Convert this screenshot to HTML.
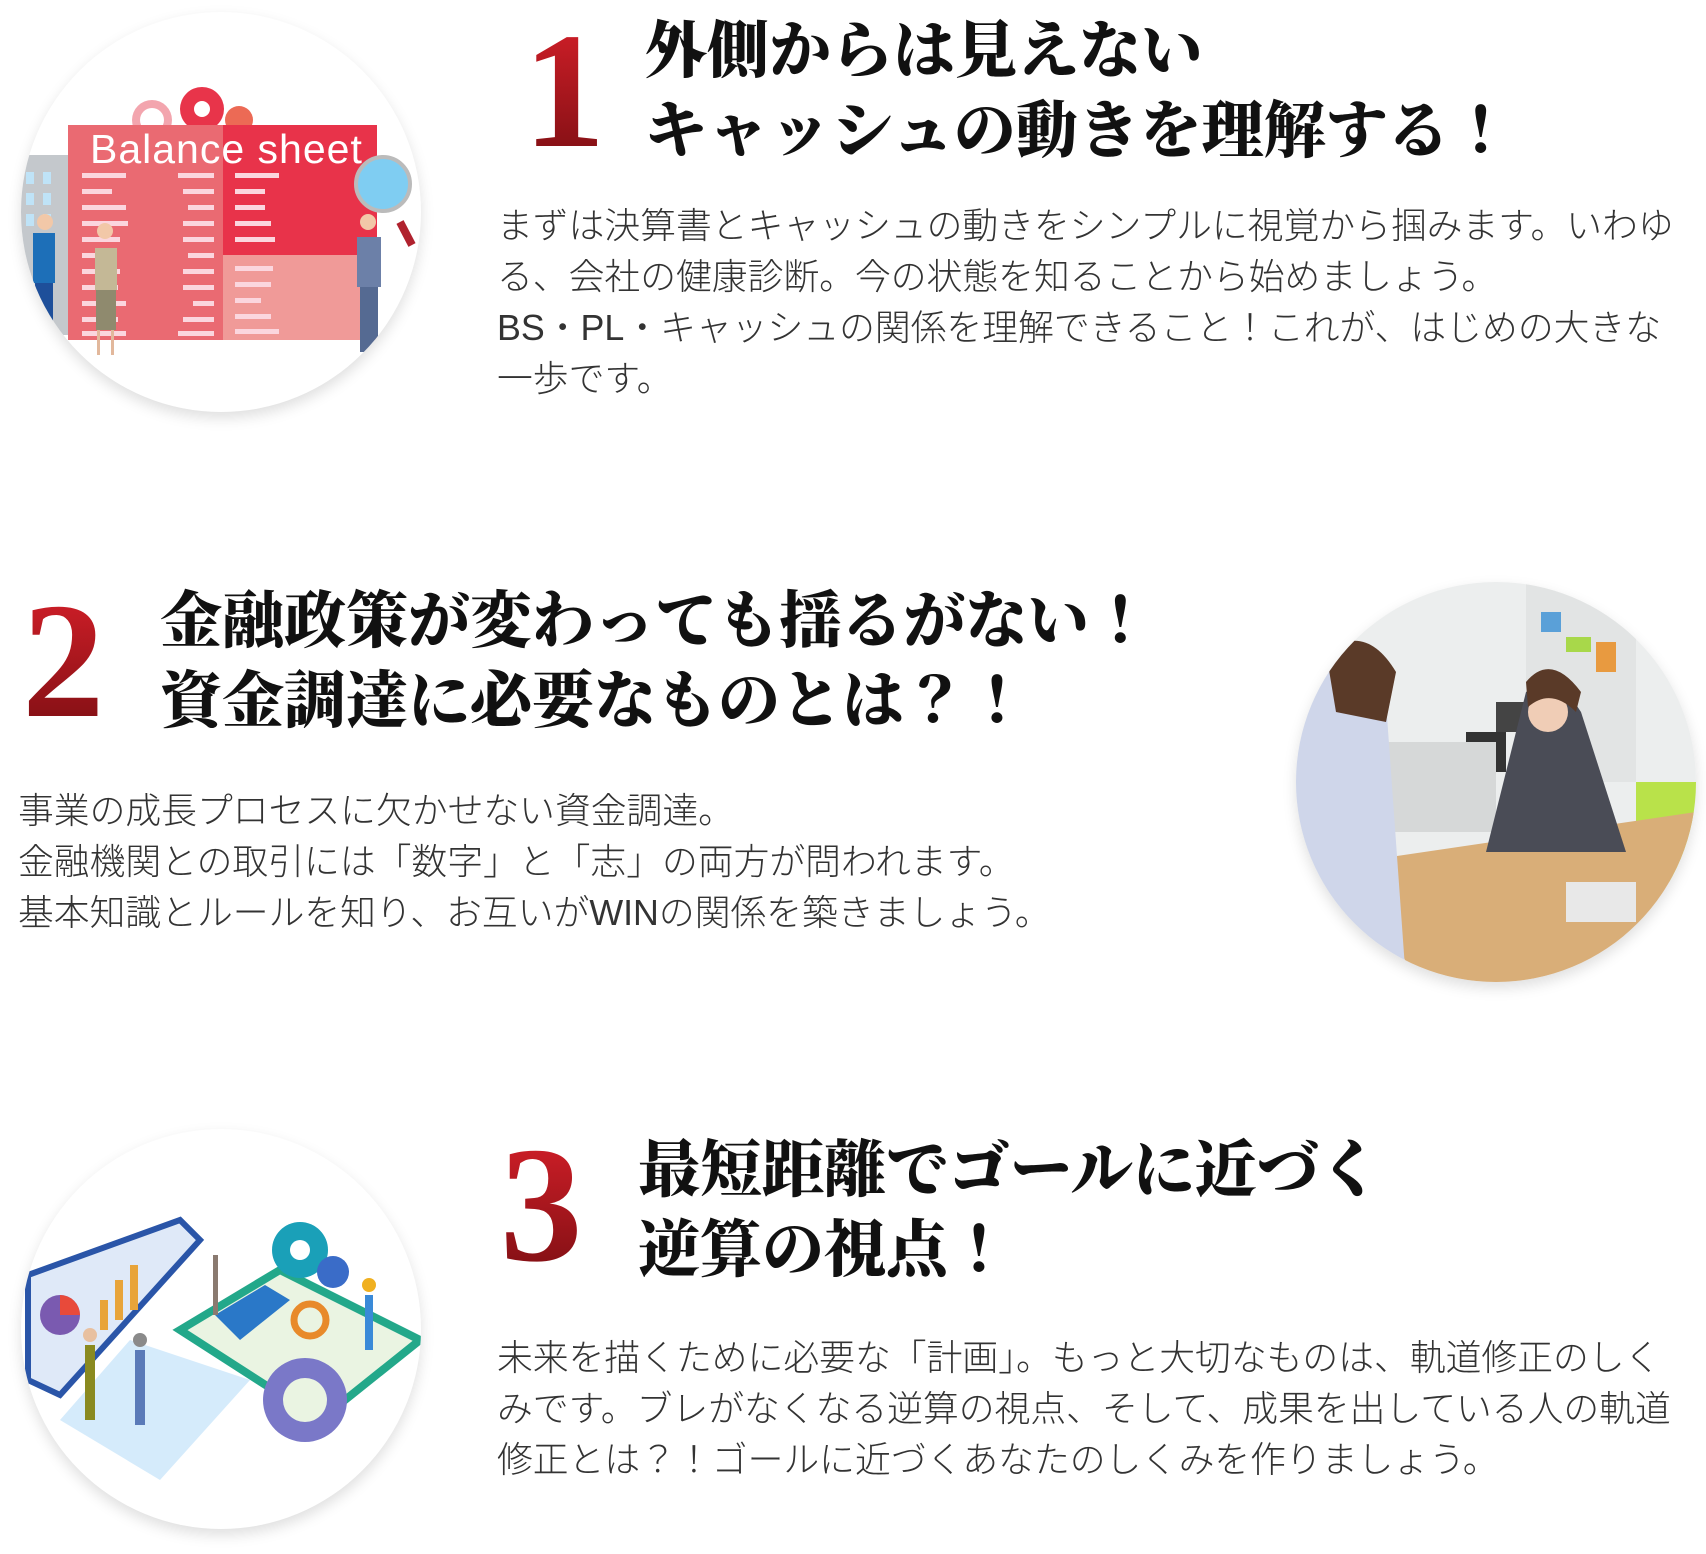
<!DOCTYPE html>
<html><head><meta charset="utf-8">
<style>
*{margin:0;padding:0;box-sizing:border-box}
body{width:1706px;height:1554px;background:#fff;position:relative;overflow:hidden;font-family:"Liberation Sans","Noto Sans CJK JP",sans-serif}
.circ{position:absolute;width:400px;height:400px;border-radius:50%;overflow:hidden;background:#fff;box-shadow:0 6px 14px rgba(0,0,0,0.13)}
.num{position:absolute;font-family:"Liberation Serif","Noto Serif CJK JP",serif;font-weight:bold;font-size:165px;line-height:1;background:linear-gradient(#d8202a,#7a0e12);-webkit-background-clip:text;background-clip:text;color:transparent}
.ttl{position:absolute;font-family:"Liberation Serif","Noto Serif CJK JP",serif;font-weight:900;font-size:62px;line-height:80px;color:#111;white-space:nowrap}
.body{position:absolute;font-size:35.8px;line-height:51px;color:#333;white-space:nowrap;font-weight:300}
</style></head><body>

<div class="circ" style="left:21px;top:12px">
<svg width="400" height="400" viewBox="21 12 400 400">
<rect x="21" y="155" width="50" height="180" fill="#c4c8cc"/>
<g fill="#bfe3f7"><rect x="26" y="172" width="8" height="12"/><rect x="43" y="172" width="8" height="12"/><rect x="26" y="193" width="8" height="12"/><rect x="43" y="193" width="8" height="12"/><rect x="26" y="214" width="8" height="12"/><rect x="43" y="214" width="8" height="12"/></g>
<circle cx="152" cy="120" r="20" fill="#f3a5ae"/><circle cx="152" cy="120" r="12" fill="#fff"/>
<circle cx="202" cy="109" r="22" fill="#e8344a"/><circle cx="202" cy="109" r="8" fill="#fff"/>
<circle cx="239" cy="120" r="14" fill="#ec6a55"/>
<rect x="68" y="125" width="155" height="215" fill="#ea6a72"/>
<rect x="223" y="125" width="154" height="130" fill="#e8334a"/>
<rect x="223" y="255" width="154" height="85" fill="#f09a98"/>
<text x="90" y="163" font-family="Liberation Sans,sans-serif" font-size="41" fill="#fff" letter-spacing="1">Balance  sheet</text>
<g fill="#fbd6de">
<rect x="82" y="173" width="44" height="5"/><rect x="82" y="189" width="30" height="5"/><rect x="82" y="205" width="44" height="5"/><rect x="82" y="221" width="46" height="5"/><rect x="82" y="237" width="38" height="5"/><rect x="82" y="253" width="30" height="5"/><rect x="82" y="269" width="38" height="5"/><rect x="82" y="285" width="36" height="5"/><rect x="82" y="301" width="44" height="5"/><rect x="82" y="317" width="36" height="5"/><rect x="82" y="331" width="44" height="5"/>
<rect x="235" y="173" width="44" height="5"/><rect x="235" y="189" width="30" height="5"/><rect x="235" y="205" width="30" height="5"/><rect x="235" y="221" width="36" height="5"/><rect x="235" y="237" width="40" height="5"/><rect x="235" y="266" width="38" height="5"/><rect x="235" y="282" width="36" height="5"/><rect x="235" y="298" width="26" height="5"/><rect x="235" y="314" width="36" height="5"/><rect x="235" y="329" width="44" height="5"/>
<rect x="178" y="173" width="36" height="5"/><rect x="183" y="189" width="31" height="5"/><rect x="188" y="205" width="26" height="5"/><rect x="183" y="221" width="31" height="5"/><rect x="183" y="237" width="31" height="5"/><rect x="188" y="253" width="26" height="5"/><rect x="183" y="269" width="31" height="5"/><rect x="183" y="285" width="31" height="5"/><rect x="193" y="301" width="21" height="5"/><rect x="183" y="317" width="31" height="5"/><rect x="178" y="331" width="36" height="5"/>
</g>
<circle cx="383" cy="184" r="27" fill="#7fcdf2" stroke="#bbb" stroke-width="4"/>
<line x1="400" y1="222" x2="412" y2="245" stroke="#b0222e" stroke-width="8"/>
<rect x="33" y="233" width="22" height="50" fill="#1d6fb8"/><rect x="35" y="283" width="18" height="45" fill="#1e4f9a"/><circle cx="45" cy="222" r="8" fill="#f2c8a8"/>
<rect x="95" y="248" width="22" height="42" fill="#c4b896"/><rect x="96" y="290" width="20" height="40" fill="#8f8a6e"/><circle cx="105" cy="231" r="8" fill="#f2c8a8"/><rect x="97" y="330" width="3" height="25" fill="#e2b89c"/><rect x="111" y="330" width="3" height="25" fill="#e2b89c"/>
<rect x="357" y="237" width="24" height="50" fill="#6c80a8"/><rect x="360" y="287" width="18" height="65" fill="#556a92"/><circle cx="368" cy="222" r="8" fill="#f2c8a8"/>
</svg>
</div>
<div class="num" style="left:523px;top:8px">1</div>
<div class="ttl" style="left:645px;top:12px">外側からは見えない<br>キャッシュの動きを理解する！</div>
<div class="body" style="left:497px;top:201px">まずは決算書とキャッシュの動きをシンプルに視覚から掴みます。いわゆ<br>る、会社の健康診断。今の状態を知ることから始めましょう。<br>BS・PL・キャッシュの関係を理解できること！これが、はじめの大きな<br>一歩です。</div>

<div class="num" style="left:22px;top:578px">2</div>
<div class="ttl" style="left:160px;top:582px">金融政策が変わっても揺るがない！<br>資金調達に必要なものとは？！</div>
<div class="body" style="left:18px;top:786px">事業の成長プロセスに欠かせない資金調達。<br>金融機関との取引には「数字」と「志」の両方が問われます。<br>基本知識とルールを知り、お互いがWINの関係を築きましょう。</div>
<div class="circ" style="left:1296px;top:582px">
<svg width="400" height="400">
<rect width="400" height="400" fill="#eceeee"/>
<rect x="230" y="0" width="110" height="200" fill="#e2e4e4"/>
<rect x="245" y="30" width="20" height="20" fill="#5aa0d8"/><rect x="270" y="55" width="25" height="15" fill="#a8d84a"/><rect x="300" y="60" width="20" height="30" fill="#e89a40"/>
<rect x="170" y="150" width="40" height="40" fill="#333"/><rect x="200" y="120" width="30" height="30" fill="#444"/>
<rect x="60" y="160" width="140" height="90" fill="#d6d8d8"/>
<rect x="340" y="200" width="60" height="100" fill="#b9e24a"/>
<polygon points="60,280 400,230 400,400 120,400" fill="#d9ae78"/>
<path d="M0,100 Q50,60 90,120 L110,400 L0,400 Z" fill="#cfd6ea"/>
<path d="M30,70 Q70,40 100,90 L90,140 L40,130 Z" fill="#5a3a28"/>
<path d="M230,110 Q260,90 285,130 L330,270 L190,270 Z" fill="#4a4c56"/>
<circle cx="252" cy="130" r="20" fill="#f0cdb6"/>
<path d="M230,100 Q255,70 285,110 L280,130 Q255,105 232,125 Z" fill="#5a3a28"/>
<rect x="270" y="300" width="70" height="40" fill="#e8e8e8"/>
</svg>
</div>

<div class="circ" style="left:21px;top:1129px">
<svg width="400" height="400" viewBox="21 1129 400 400">
<polygon points="28,1275 180,1220 200,1240 60,1395 28,1380" fill="#dfe9f8" stroke="#2a55a8" stroke-width="6"/>
<polygon points="60,1420 130,1340 250,1380 160,1480" fill="#d5ebfb"/>
<circle cx="60" cy="1315" r="20" fill="#7a5ab0"/><path d="M60,1315 L60,1295 A20 20 0 0 1 80,1315 Z" fill="#e84a3a"/>
<g fill="#e8a43a"><rect x="100" y="1300" width="8" height="30"/><rect x="115" y="1280" width="8" height="40"/><rect x="130" y="1265" width="8" height="45"/></g>
<polygon points="180,1330 280,1270 420,1340 320,1420" fill="#eaf4e2" stroke="#23a88a" stroke-width="8"/>
<circle cx="300" cy="1250" r="28" fill="#1aa0b8"/><circle cx="300" cy="1250" r="10" fill="#fff"/>
<circle cx="333" cy="1272" r="16" fill="#3a6cc8"/>
<circle cx="310" cy="1320" r="16" fill="none" stroke="#e88a2a" stroke-width="7"/>
<polygon points="215,1315 265,1285 290,1300 240,1340" fill="#2a78c8"/>
<rect x="213" y="1255" width="5" height="60" fill="#8a7a70"/>
<circle cx="305" cy="1400" r="42" fill="#7a78c8"/><circle cx="305" cy="1400" r="22" fill="#eaf4e2"/>
<rect x="85" y="1345" width="10" height="75" fill="#8a8a20"/><circle cx="90" cy="1335" r="7" fill="#e8c0a0"/>
<rect x="135" y="1350" width="10" height="75" fill="#5a7ab8"/><circle cx="140" cy="1340" r="7" fill="#8a8a8a"/>
<rect x="365" y="1295" width="8" height="55" fill="#3a8ad8"/><circle cx="369" cy="1285" r="7" fill="#f0b020"/>
</svg>
</div>
<div class="num" style="left:500px;top:1122px">3</div>
<div class="ttl" style="left:638px;top:1131px">最短距離でゴールに近づく<br>逆算の視点！</div>
<div class="body" style="left:497px;top:1333px">未来を描くために必要な「計画」。もっと大切なものは、軌道修正のしく<br>みです。ブレがなくなる逆算の視点、そして、成果を出している人の軌道<br>修正とは？！ゴールに近づくあなたのしくみを作りましょう。</div>

</body></html>
